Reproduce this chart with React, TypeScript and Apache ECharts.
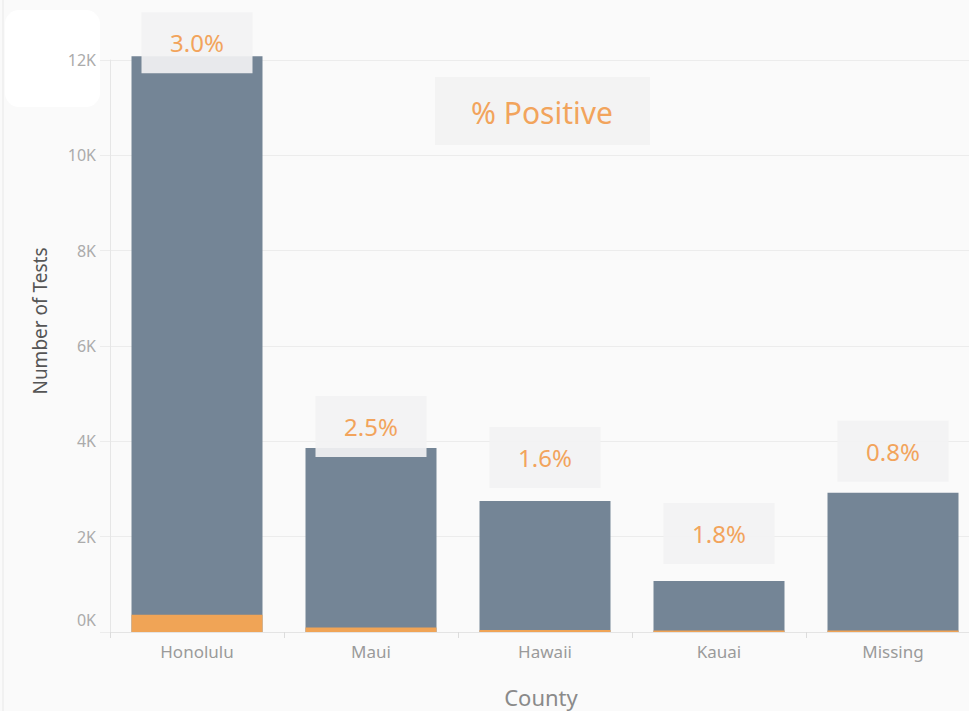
import React, { useEffect, useRef } from "react";
import * as echarts from "echarts";

const counties = ["Honolulu", "Maui", "Hawaii", "Kauai", "Missing"];
const totalTests = [12080, 3860, 2750, 1070, 2920];
const pctPositive = [3.0, 2.5, 1.6, 1.8, 0.8];
const positiveTests = totalTests.map((t, i) => Math.round((t * pctPositive[i]) / 100));
const yMin = 0;
const yMax = 12000;
const yInterval = 2000;
const labelOffsetY = [17, 9, -13, -17, -11];

export default function App() {
  const ref = useRef<HTMLDivElement>(null);
  useEffect(() => {
    if (!ref.current) return;
    const chart = echarts.init(ref.current, undefined, { renderer: "svg" });
    const font = "Noto Sans";
    chart.setOption({
      animation: false,
      backgroundColor: "#fafafa",
      textStyle: { fontFamily: font },
      grid: {
        left: 110,
        top: 60,
        width: 870,
        bottom: 79,
        containLabel: false,
        outerBoundsMode: "none",
      },
      xAxis: {
        type: "category",
        data: counties,
        name: "County",
        nameLocation: "middle",
        nameGap: 54,
        nameTextStyle: { fontSize: 22, color: "#8a8a8a", fontFamily: font, padding: [0, 8, 0, 0] },
        axisLine: { show: true, lineStyle: { color: "#e4e4e4" } },
        axisTick: { show: true, length: 6, lineStyle: { color: "#dcdcdc" } },
        axisLabel: { color: "#9a9a9a", fontSize: 17, margin: 11, fontFamily: font },
      },
      yAxis: {
        type: "value",
        min: yMin,
        max: yMax,
        interval: yInterval,
        name: "Number of Tests",
        nameLocation: "middle",
        nameGap: 61,
        nameRotate: 90,
        nameTextStyle: {
          fontSize: 19,
          color: "#555",
          fontFamily: font,
          padding: [0, 0, 0, 50],
        },
        axisLine: { show: true, lineStyle: { color: "#e6e6e6" } },
        axisTick: { show: true, length: 10, lineStyle: { color: "#ececec" } },
        splitLine: { show: true, lineStyle: { color: "#ececec" } },
        axisLabel: {
          color: "#ababab",
          fontSize: 16,
          margin: 14,
          fontFamily: font,
          formatter: (v: number) => (v === 0 ? "{z|0K}" : v / 1000 + "K"),
          rich: { z: { padding: [0, 0, 24, 0], color: "#ababab", fontSize: 16, fontFamily: font } },
        },
      },
      series: [
        {
          type: "bar",
          name: "Total",
          data: totalTests.map((v, i) => ({ value: v, label: { offset: [0, labelOffsetY[i]] } })),
          barWidth: 131,
          barGap: "-100%",
          clip: false,
          itemStyle: { color: "#748596" },
          label: {
            show: true,
            position: "top",
            distance: 0,
            formatter: (p: any) => pctPositive[p.dataIndex].toFixed(1) + "%",
            color: "#f2a45c",
            fontSize: 24,
            fontFamily: font,
            backgroundColor: "rgba(242,242,243,0.92)",
            width: 111,
            height: 61,
            lineHeight: 61,
            align: "center",
          },
          z: 2,
        },
        {
          type: "bar",
          name: "Positive",
          data: positiveTests,
          barWidth: 131,
          barGap: "-100%",
          barMinHeight: 1.5,
          clip: false,
          itemStyle: { color: "#f0a456" },
          z: 3,
        },
      ],
      graphic: [
        { type: "line", shape: { x1: 3, y1: 0, x2: 3, y2: 711 }, style: { stroke: "#e8e8e8", lineWidth: 1 }, silent: true },
        { type: "rect", shape: { x: 5, y: 10, width: 95, height: 97, r: 14 }, style: { fill: "#ffffff" }, silent: true },
        { type: "rect", shape: { x: 435, y: 77, width: 215, height: 68 }, style: { fill: "#f3f3f3" }, silent: true },
        {
          type: "text",
          x: 542,
          y: 112,
          style: {
            text: "% Positive",
            fill: "#f2a45c",
            fontSize: 30,
            fontFamily: font,
            align: "center",
            verticalAlign: "middle",
          },
          silent: true,
        },
      ],
    });
    return () => chart.dispose();
  }, []);
  return <div ref={ref} style={{ position: "absolute", left: 0, top: 0, width: 969, height: 711 }} />;
}
